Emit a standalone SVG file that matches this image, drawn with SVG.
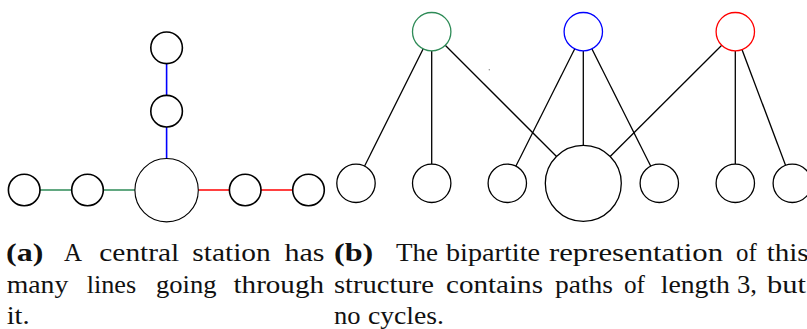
<svg xmlns="http://www.w3.org/2000/svg" width="807" height="329" viewBox="0 0 807 329">
<style>
.n{fill:#fff;stroke:#000;stroke-width:1.6}
.nb{fill:#fff;stroke:#000;stroke-width:1.1}
.nr{fill:#fff;stroke:#000;stroke-width:1.3}
.e{stroke:#000;stroke-width:1.3;fill:none}
.eg{stroke:#2e8b57;stroke-width:1.6}
.eb{stroke:#0000ff;stroke-width:1.6}
.er{stroke:#ff0000;stroke-width:1.6}
.bold{font-weight:bold}
</style>
<rect width="807" height="329" fill="#fff"/>
<g id="connectors">
  <line class="eb" x1="166.6" y1="47.8" x2="166.6" y2="111.2"/>
  <line class="eb" x1="166.6" y1="111.2" x2="166.6" y2="190.2"/>
  <line class="eg" x1="24.2" y1="190" x2="87.5" y2="190"/>
  <line class="eg" x1="87.5" y1="190" x2="166.6" y2="190"/>
  <line class="er" x1="166.6" y1="190" x2="245.2" y2="190"/>
  <line class="er" x1="245.2" y1="190" x2="308.5" y2="190"/>
  <line class="e" x1="431.7" y1="31.7" x2="356" y2="183.3"/>
  <line class="e" x1="431.7" y1="31.7" x2="431.7" y2="183.3"/>
  <line class="e" x1="431.7" y1="31.7" x2="583.3" y2="183.3"/>
  <line class="e" x1="583.3" y1="31.7" x2="507.3" y2="183.3"/>
  <line class="e" x1="583.3" y1="31.7" x2="583.3" y2="183.3"/>
  <line class="e" x1="583.3" y1="31.7" x2="659.3" y2="183.3"/>
  <line class="e" x1="735.3" y1="31.7" x2="583.3" y2="183.3"/>
  <line class="e" x1="735.3" y1="31.7" x2="735.3" y2="183.3"/>
  <line class="e" x1="735.3" y1="31.7" x2="792.3" y2="183.3"/>
</g>
<g id="a-top"><circle class="n" cx="166.6" cy="47.8" r="15.8"/></g>
<g id="a-mid"><circle class="n" cx="166.6" cy="111.2" r="15.8"/></g>
<g id="a-center"><circle class="nb" cx="166.6" cy="190.2" r="31.7"/></g>
<g id="a-left2"><circle class="n" cx="24.2" cy="190" r="15.8"/></g>
<g id="a-left1"><circle class="n" cx="87.5" cy="190" r="15.8"/></g>
<g id="a-right1"><circle class="n" cx="245.2" cy="190" r="15.8"/></g>
<g id="a-right2"><circle class="n" cx="308.5" cy="190" r="15.8"/></g>

<g id="b-green"><circle cx="431.7" cy="31.7" r="19.2" fill="#fff" stroke="#2e8b57" stroke-width="1.3"/></g>
<g id="b-blue"><circle cx="583.3" cy="31.7" r="19.2" fill="#fff" stroke="#0000ff" stroke-width="1.3"/></g>
<g id="b-red"><circle cx="735.3" cy="31.7" r="19.2" fill="#fff" stroke="#ff0000" stroke-width="1.3"/></g>
<g id="b-s1"><circle class="nr" cx="356" cy="183.3" r="19.2"/></g>
<g id="b-s2"><circle class="nr" cx="431.7" cy="183.3" r="19.2"/></g>
<g id="b-s3"><circle class="nr" cx="507.3" cy="183.3" r="19.2"/></g>
<g id="b-center"><circle class="nr" cx="583.3" cy="183.3" r="38"/></g>
<g id="b-s5"><circle class="nr" cx="659.3" cy="183.3" r="19.2"/></g>
<g id="b-s6"><circle class="nr" cx="735.3" cy="183.3" r="19.2"/></g>
<g id="b-s7"><circle class="nr" cx="792.3" cy="183.3" r="19.2"/></g>
<circle cx="489.3" cy="69.7" r="0.7" fill="#888"/>

<g id="caption-a" font-family="Liberation Serif" font-size="24.5" fill="#111">
  <text class="bold" x="6" y="261" textLength="37.3" lengthAdjust="spacingAndGlyphs">(a)</text>
  <text x="64" y="261" textLength="18" lengthAdjust="spacingAndGlyphs">A</text>
  <text x="99.3" y="261" textLength="80" lengthAdjust="spacingAndGlyphs">central</text>
  <text x="192.3" y="261" textLength="78.5" lengthAdjust="spacingAndGlyphs">station</text>
  <text x="284.5" y="261" textLength="40" lengthAdjust="spacingAndGlyphs">has</text>
  <text x="6.7" y="292.7" textLength="61.6" lengthAdjust="spacingAndGlyphs">many</text>
  <text x="86.7" y="292.7" textLength="49.5" lengthAdjust="spacingAndGlyphs">lines</text>
  <text x="156" y="292.7" textLength="60.5" lengthAdjust="spacingAndGlyphs">going</text>
  <text x="233.5" y="292.7" textLength="90.5" lengthAdjust="spacingAndGlyphs">through</text>
  <text x="6.7" y="324" textLength="23" lengthAdjust="spacingAndGlyphs">it.</text>
</g>
<g id="caption-b" font-family="Liberation Serif" font-size="24.5" fill="#111">
  <text class="bold" x="334" y="261" textLength="39.3" lengthAdjust="spacingAndGlyphs">(b)</text>
  <text x="396" y="261" textLength="42" lengthAdjust="spacingAndGlyphs">The</text>
  <text x="446" y="261" textLength="94" lengthAdjust="spacingAndGlyphs">bipartite</text>
  <text x="549" y="261" textLength="174" lengthAdjust="spacingAndGlyphs">representation</text>
  <text x="736" y="261" textLength="20.7" lengthAdjust="spacingAndGlyphs">of</text>
  <text x="766.7" y="261" textLength="42" lengthAdjust="spacingAndGlyphs">this</text>
  <text x="334" y="292.7" textLength="100" lengthAdjust="spacingAndGlyphs">structure</text>
  <text x="446" y="292.7" textLength="97" lengthAdjust="spacingAndGlyphs">contains</text>
  <text x="555" y="292.7" textLength="58" lengthAdjust="spacingAndGlyphs">paths</text>
  <text x="624" y="292.7" textLength="21" lengthAdjust="spacingAndGlyphs">of</text>
  <text x="660.7" y="292.7" textLength="69.3" lengthAdjust="spacingAndGlyphs">length</text>
  <text x="737" y="292.7" textLength="20" lengthAdjust="spacingAndGlyphs">3,</text>
  <text x="767" y="292.7" textLength="39" lengthAdjust="spacingAndGlyphs">but</text>
  <text x="334" y="324" textLength="26.5" lengthAdjust="spacingAndGlyphs">no</text>
  <text x="368" y="324" textLength="76" lengthAdjust="spacingAndGlyphs">cycles.</text>
</g>
</svg>
